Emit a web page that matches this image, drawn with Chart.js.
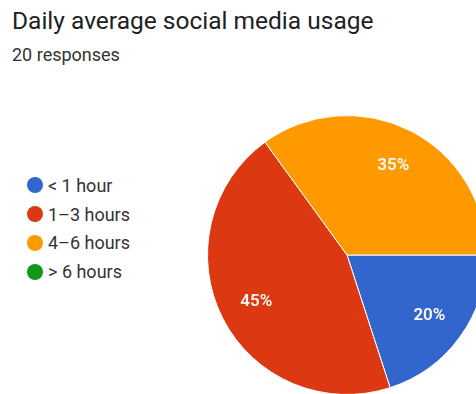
<!DOCTYPE html>
<html>
<head>
<meta charset="utf-8">
<script src="https://cdn.jsdelivr.net/npm/chart.js@4"></script>
<style>
  html, body { margin: 0; padding: 0; background: #fff; overflow: hidden; width: 476px; height: 394px; font-family: Roboto, sans-serif; }
  #title { position: absolute; left: 12px; top: 6px; font-size: 24.5px; color: #202124; white-space: nowrap; }
  #sub { position: absolute; left: 12px; top: 44px; font-size: 18px; color: #333; }
  #legend { position: absolute; left: 27px; top: 171px; }
  .row { height: 28.8px; display: flex; align-items: center; font-size: 18px; color: #333; }
  .dot { width: 16px; height: 16px; border-radius: 50%; margin-right: 5px; }
  #pie { position: absolute; left: 207px; top: 115px; }
</style>
</head>
<body>
<div id="title">Daily average social media usage</div>
<div id="sub">20 responses</div>
<div id="legend"></div>
<canvas id="pie" width="280" height="280"></canvas>
<script>
const categories = ['< 1 hour', '1–3 hours', '4–6 hours', '> 6 hours'];
const counts = [4, 9, 7, 0];
const colors = ['#3366cc', '#dc3912', '#ff9900', '#109618'];

// legend as plain html
const legend = document.querySelector('#legend');
categories.forEach((c, i) => {
    let row = document.createElement('div');
    row.className = 'row';
    row.innerHTML = `<div class="dot" style="background:${colors[i]}"></div><span></span>`;
    row.querySelector('span').textContent = c;
    legend.appendChild(row);
});

const total = counts.reduce((a, b) => a + b, 0);

const pctLabels = {
    id: 'pctLabels',
    afterDatasetsDraw(chart) {
        const ctx = chart.ctx;
        const arcs = chart.getDatasetMeta(0).data;
        ctx.save();
        ctx.fillStyle = '#fbfbf5';
        ctx.font = '600 17px Roboto';
        ctx.textAlign = 'center';
        ctx.textBaseline = 'middle';
        arcs.forEach((arc, i) => {
            if (!counts[i]) return;
            const { x, y, startAngle, endAngle, outerRadius } = arc.getProps(['x', 'y', 'startAngle', 'endAngle', 'outerRadius'], true);
            const mid = (startAngle + endAngle) / 2;
            const r = outerRadius * 0.73;
            ctx.fillText(Math.round(counts[i] / total * 100) + '%', x + Math.cos(mid) * r, y + Math.sin(mid) * r + 1);
        });
        ctx.restore();
    }
};

new Chart(document.querySelector('#pie'), {
    type: 'pie',
    data: {
        labels: categories,
        datasets: [{
            data: counts,
            backgroundColor: colors,
            borderColor: '#fff',
            borderWidth: 1
        }]
    },
    options: {
        responsive: false,
        animation: false,
        rotation: 90,
        layout: { padding: 0 },
        plugins: {
            legend: { display: false },
            tooltip: { enabled: false }
        }
    },
    plugins: [pctLabels]
});
</script>
</body>
</html>
